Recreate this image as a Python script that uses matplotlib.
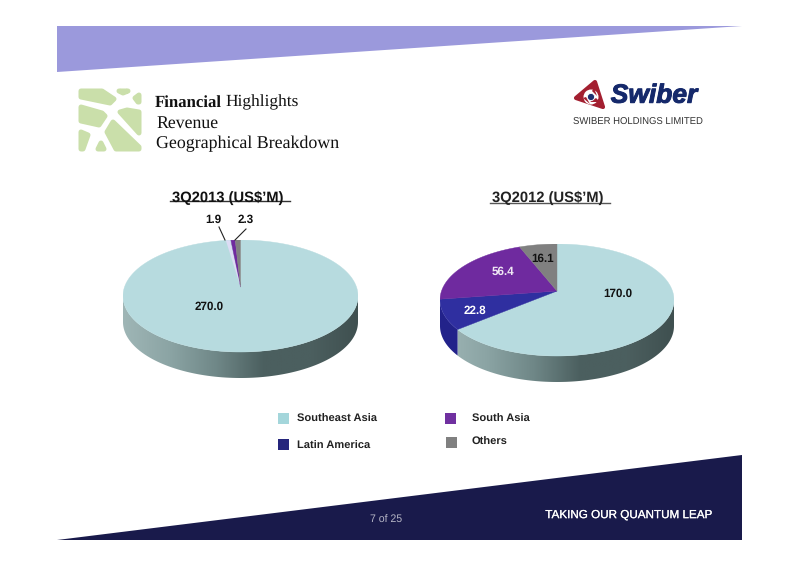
import numpy as np
import matplotlib
matplotlib.use("Agg")
import matplotlib.pyplot as plt
import matplotlib.patheffects as pe
from matplotlib.colors import LinearSegmentedColormap
from matplotlib.patches import Circle, Polygon, Rectangle

# Data
regions = ["Southeast Asia", "Latin America", "South Asia", "Others"]
regions_2013 = ["Southeast Asia", "South Asia", "Others"]
values_2013 = [270.0, 1.9, 2.3]
regions_2012 = ["Southeast Asia", "Latin America", "South Asia", "Others"]
values_2012 = [170.0, 22.8, 56.4, 16.1]

top_colors = {"Southeast Asia": "#b7dbdf", "Latin America": "#2f2fa0",
              "South Asia": "#6f2a9f", "Others": "#808080"}
side_colors = {"Latin America": "#22228a", "South Asia": "#4d1d70", "Others": "#5a5a5a"}
legend_colors = {"Southeast Asia": "#a4d6db", "Latin America": "#25257c",
                 "South Asia": "#7030a0", "Others": "#808080"}

W, H = 800, 566
plt.rcParams["font.family"] = ["Liberation Sans", "DejaVu Sans"]
plt.rcParams["text.hinting"] = "none"
fig = plt.figure(figsize=(W / 100, H / 100), dpi=100)

# page layer in pixel coordinates
bg = fig.add_axes([0, 0, 1, 1])
bg.set_xlim(0, W)
bg.set_ylim(H, 0)
bg.set_axis_off()

bg.add_patch(Polygon([(57, 26), (742, 26), (57, 72)], fc="#9b99dc", ec="none"))
bg.add_patch(Polygon([(57, 540), (742, 455), (742, 540)], fc="#191a4b", ec="none"))

# green emblem
leaf = [
    [(81, 91), (102, 91), (114, 99), (110, 103), (81, 97)],
    [(81, 107), (102, 113), (105, 116), (99, 125), (81, 121)],
    [(81, 132), (88, 135), (83, 149), (81, 149)],
    [(101, 143), (104, 149), (98, 149)],
    [(113, 122), (139, 147), (139, 149), (116, 149), (107, 132)],
    [(120, 112), (127, 110), (139, 112), (139, 133)],
    [(119, 91), (128, 91), (123, 93)],
    [(135, 98), (139, 95), (139, 102), (138, 102)],
]
for pts in leaf:
    bg.add_patch(Polygon(pts, fc="#cadfaa", ec="#cadfaa", lw=3.6, joinstyle="round"))

# heading
serif = ["Liberation Serif", "DejaVu Serif"]
bg.text(155, 102.5, "Financial", family=serif, fontsize=12.1, weight="bold", color="#111111", va="center")
bg.text(225, 102.5, "Highlights", family=serif, fontsize=12.5, color="#111111", va="center")
bg.text(156, 124, "Revenue", family=serif, fontsize=12.8, color="#111111", va="center")
bg.text(156, 144, "Geographical Breakdown", family=serif, fontsize=12.9, color="#111111", va="center")

# company logo
bg.add_patch(Polygon([(595, 82), (576, 98), (603, 107)], fc="#a31f30", ec="#a31f30",
                     lw=3, joinstyle="round"))
bg.add_patch(Circle((591, 97), 7.5, fc="white", ec="none"))
for blade in ([(594, 88), (597, 96), (592, 91)], [(583, 98), (590, 104), (586, 97)],
              [(600, 102), (590, 102), (596, 98)]):
    bg.add_patch(Polygon(blade, fc="#a31f30", ec="none"))
bg.add_patch(Circle((591, 97), 3.6, fc="#1d2f6f", ec="white", lw=0.6))
bg.text(654, 96, "Swiber", fontsize=19, weight="bold", style="italic", color="#15296b",
        ha="center", va="center",
        path_effects=[pe.withStroke(linewidth=0.7, foreground="#15296b")])
bg.text(638, 122.5, "SWIBER HOLDINGS LIMITED", fontsize=6.85, color="#333333", ha="center", va="center")

side_cmap = LinearSegmentedColormap.from_list(
    "side", ["#9fb6b6", "#8ba4a4", "#6f8787", "#4b5f5f", "#4c5f5f", "#3f5050"])


def project(theta, shift):
    # perspective: clockwise angle from 12 o'clock -> rim point
    x, y = np.sin(theta), np.cos(theta)
    den = 1 + shift * y
    return x * np.sqrt(1 - shift ** 2) / den, (y + shift) / den


def draw_pie(cx, cy, rx, ry, depth, names, values, shift=0.16):
    d = depth / ry
    ax = fig.add_axes([(cx - rx) / W, 1 - (cy + ry + depth) / H, 2 * rx / W, (2 * ry + depth) / H])
    ax.set_axis_off()
    edges = np.radians(np.concatenate([[0], np.cumsum(values)]) / np.sum(values) * 360)
    for name, a, b in zip(names, edges[:-1], edges[1:]):
        ts = np.linspace(a, b, 200)
        px, py = project(ts, shift)
        phi = np.mod(np.arctan2(px, py), 2 * np.pi)
        phi[0] = 0 if a == 0 else phi[0]
        phi = np.unwrap(phi)
        # side wall, lower half of the rim only
        lo, hi = max(phi[0], np.pi / 2), min(phi[-1], 3 * np.pi / 2)
        if hi > lo:
            rim = np.linspace(lo, hi, 200)
            band = np.r_[np.c_[np.sin(rim), np.cos(rim)],
                         np.c_[np.sin(rim), np.cos(rim) - d][::-1]]
            if name == "Southeast Asia":
                poly = Polygon(band, fc="none", ec="none", transform=ax.transData)
                ax.add_patch(poly)
                im = ax.imshow(np.linspace(0, 1, 256)[None, :], cmap=side_cmap, aspect="auto",
                               extent=(-1, 1, -1 - d, 1), zorder=1)
                im.set_clip_path(poly)
            else:
                ax.add_patch(Polygon(band, fc=side_colors[name], ec="none", zorder=1))
        # top face
        top = np.r_[[[0, shift]], np.c_[px, py]]
        ax.add_patch(Polygon(top, fc=top_colors[name], ec=top_colors[name], lw=0.3, zorder=2))
    ax.set_xlim(-1, 1)
    ax.set_ylim(-1 - d, 1)
    return ax


ax13 = draw_pie(240.5, 296, 117.5, 56, 26, regions_2013, values_2013)
ax12 = draw_pie(557, 300, 117, 56, 26, regions_2012, values_2012)

# pale sliver next to the purple wedge in the 2013 pie
sl = np.radians(np.array([351.6, 354.0]))
sx, sy = project(sl, 0.16)
ax13.add_patch(Polygon([(0, 0.16), (sx[0], sy[0]), (sx[1], sy[1])], fc="#dcdcf4", ec="none", zorder=3))

# chart titles
bg.text(228, 197.5, "3Q2013 (US$\u2019M)", fontsize=10.6, weight="bold", color="#111111", ha="center", va="center")
bg.plot([170, 290], [201, 201], color="#333333", lw=1)
bg.text(548, 197.5, "3Q2012 (US$\u2019M)", fontsize=10.6, weight="bold", color="#222222", ha="center", va="center")
bg.plot([490, 610], [203, 203], color="#555555", lw=1)

# value labels
lab = dict(fontsize=8.4, weight="bold", ha="center", va="center", zorder=5)
top = fig.add_axes([0, 0, 1, 1], sharex=bg, sharey=bg, facecolor="none")
top.set_axis_off()
top.text(209, 307, f"{values_2013[0]:.1f}", color="#111111", **lab)
top.text(213, 219.5, f"{values_2013[1]:.1f}", color="#111111", **lab)
top.text(246, 219.5, f"{values_2013[2]:.1f}", color="#111111", **lab)
top.plot([219, 225], [227, 240], color="#222222", lw=0.8)
top.plot([246, 235], [229, 240], color="#222222", lw=0.8)
top.text(618, 293.5, f"{values_2012[0]:.1f}", color="#111111", **lab)
top.text(475, 310.5, f"{values_2012[1]:.1f}", color="white", **lab)
top.text(503, 271.5, f"{values_2012[2]:.1f}", color="#f0e8f4", **lab)
top.text(543, 258.5, f"{values_2012[3]:.1f}", color="#111111", **lab)

# legend
legend_pos = {"Southeast Asia": (278, 413, 297, 418), "Latin America": (278, 439, 297, 445),
              "South Asia": (445, 413, 472, 418), "Others": (446, 437, 472, 441)}
for name in regions:
    sx0, sy0, tx, ty = legend_pos[name]
    bg.add_patch(Rectangle((sx0, sy0), 11, 11, fc=legend_colors[name], ec="none"))
    bg.text(tx, ty + 1.5, name, fontsize=8, weight="bold", color="#222222", va="center")

# footer
bg.text(386, 520.5, "7 of 25", fontsize=7.6, color="#b5b5c5", ha="center", va="center")
bg.text(628.5, 515, "TAKING OUR QUANTUM LEAP", fontsize=8.4, color="white", ha="center", va="center",
        path_effects=[pe.withStroke(linewidth=0.15, foreground="white")])

fig.savefig("out.png", dpi=100)
